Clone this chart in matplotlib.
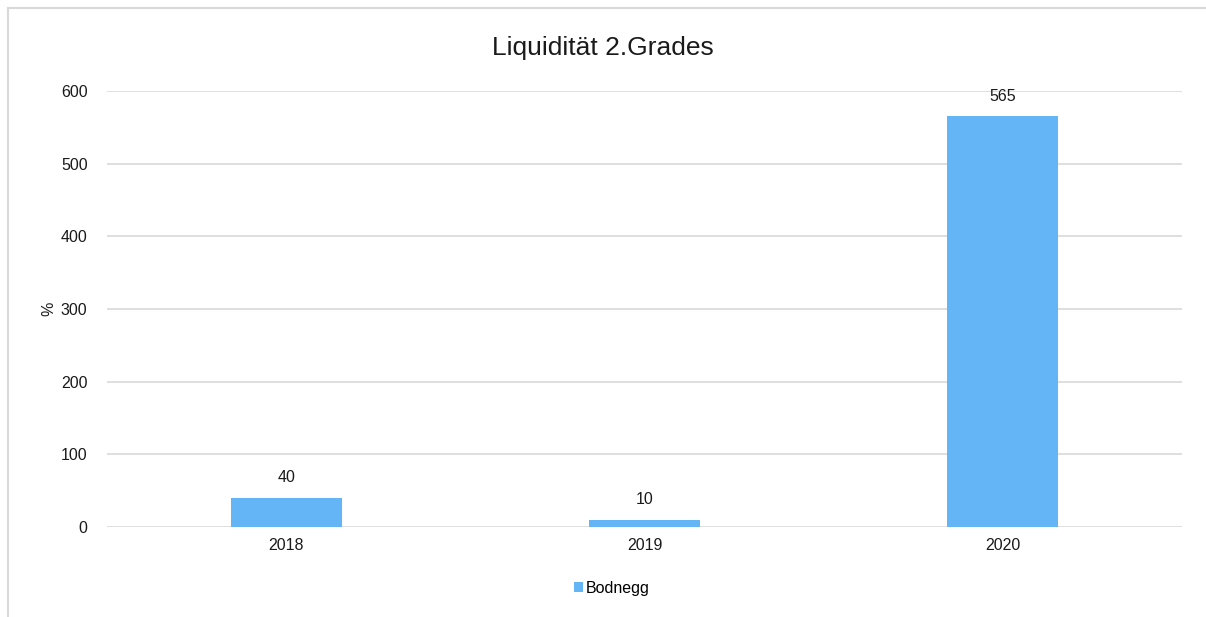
import matplotlib.pyplot as plt
from matplotlib.lines import Line2D

plt.rcParams['font.family'] = ['Liberation Sans', 'DejaVu Sans']

years = ['2018', '2019', '2020']
bodnegg = [40, 10, 565]
yticks = [0, 100, 200, 300, 400, 500, 600]

W, H = 1206, 617
fig = plt.figure(figsize=(W / 100, H / 100), dpi=100)

# light grey chart border, only left and top edges show in the screenshot
bx, by = 7.5 / W, 1 - 7.5 / H
fig.lines.append(Line2D([bx, bx], [0, by], transform=fig.transFigure, color='#d9d9d9', linewidth=1.5))
fig.lines.append(Line2D([bx, 1], [by, by], transform=fig.transFigure, color='#d9d9d9', linewidth=1.5))

ax = fig.add_axes([107 / W, 1 - 527 / H, (1182 - 107) / W, (527 - 91) / H])

x = range(len(years))
bars = ax.bar(x, bodnegg, width=0.31, color='#64b5f6', label='Bodnegg', zorder=3)

for b, v in zip(bars, bodnegg):
    ax.annotate(str(v), (b.get_x() + b.get_width() / 2, v), xytext=(0, 9),
                textcoords='offset points', ha='center', va='bottom', fontsize=11.5, color='#1a1a1a')

ax.set_xlim(-0.5, 2.5)
ax.set_ylim(0, 600)
ax.set_xticks(list(x))
ax.set_xticklabels(years)
ax.set_yticks(yticks)
ax.grid(axis='y', color='#d9d9d9', linewidth=1.2, zorder=0)
for s in ax.spines.values():
    s.set_visible(False)
ax.tick_params(axis='both', length=0, labelsize=11.5, colors='#1a1a1a')
ax.tick_params(axis='y', pad=14)
ax.tick_params(axis='x', pad=8)

ax.set_ylabel('%', fontsize=11.5, color='#1a1a1a', labelpad=3)
fig.text(0.5, 1 - 48 / H, 'Liquidität 2.Grades', ha='center', va='center', fontsize=19, color='#1a1a1a')

fig.legend(loc='center', bbox_to_anchor=(612 / W, 1 - 588 / H), frameon=False, fontsize=11.5,
           handlelength=0.55, handleheight=0.55, handletextpad=0.15)

fig.savefig('out.png', dpi=100)
